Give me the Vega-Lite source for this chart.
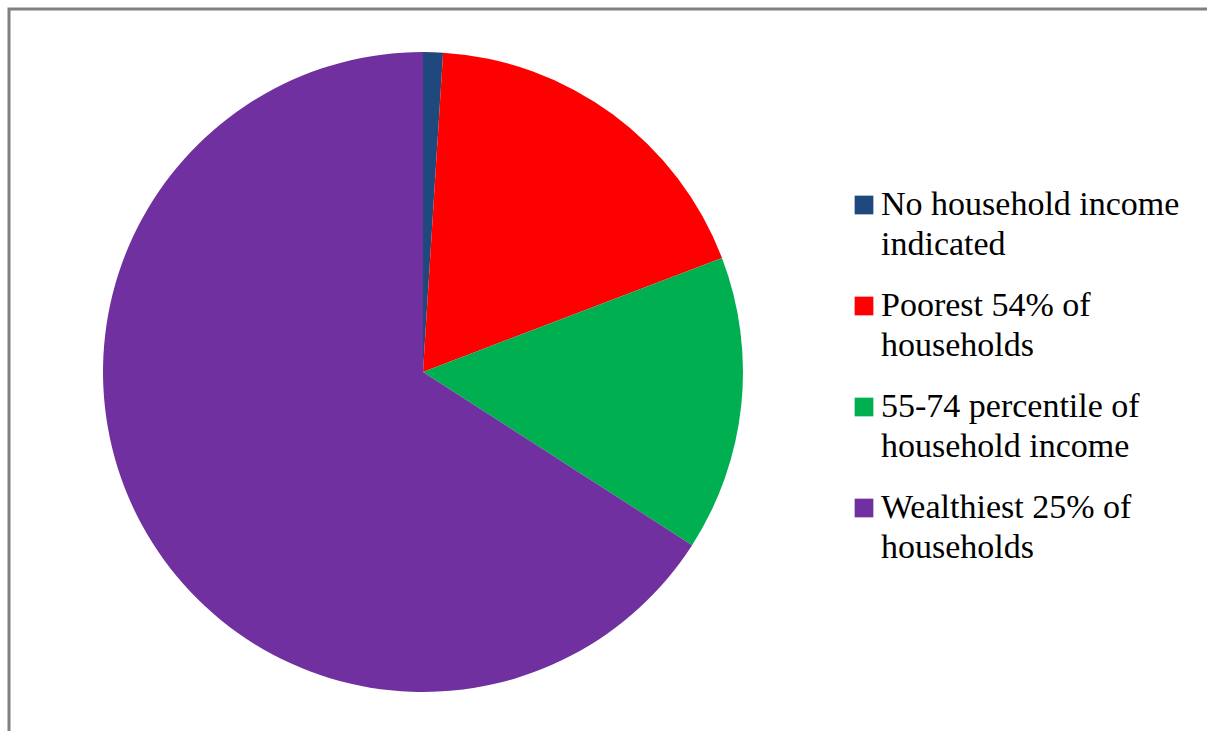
{
  "$schema": "https://vega.github.io/schema/vega-lite/v6.json",
  "width": 1201,
  "height": 725,
  "autosize": "none",
  "padding": {"left": 9, "top": 9, "right": -3, "bottom": -3},
  "background": "white",
  "view": {"stroke": "#808080", "strokeWidth": 3, "fill": null},
  "config": {
    "view": {"stroke": "#808080", "strokeWidth": 3},
    "style": {"guide-label": {"lineHeight": 40}}
  },
  "data": {
    "values": [
      {"group": "No household income indicated", "share": 1.0, "rank": 1},
      {"group": "Poorest 54% of households", "share": 18.2, "rank": 2},
      {"group": "55-74 percentile of household income", "share": 14.9, "rank": 3},
      {"group": "Wealthiest 25% of households", "share": 65.9, "rank": 4}
    ]
  },
  "mark": {"type": "arc", "outerRadius": 320, "x": 414, "y": 363},
  "encoding": {
    "theta": {"field": "share", "type": "quantitative", "stack": true},
    "order": {"field": "rank", "type": "quantitative"},
    "color": {
      "field": "group",
      "type": "nominal",
      "scale": {
        "domain": ["No household income indicated", "Poorest 54% of households", "55-74 percentile of household income", "Wealthiest 25% of households"],
        "range": ["#1f497d", "#ff0000", "#00b050", "#7030a0"]
      },
      "legend": {
        "orient": "none",
        "legendX": 838,
        "legendY": 179,
        "title": null,
        "padding": 0,
        "symbolType": "square",
        "symbolSize": 350,
        "symbolStrokeWidth": 0,
        "symbolOpacity": 1,
        "labelFont": "Liberation Serif, Times New Roman, serif",
        "labelFontSize": 34,
        "labelColor": "black",
        "labelLimit": 500,
        "labelOffset": 0,
        "rowPadding": 27,
        "labelExpr": "datum.label == 'No household income indicated' ? ['No household income', 'indicated'] : datum.label == 'Poorest 54% of households' ? ['Poorest 54% of', 'households'] : datum.label == '55-74 percentile of household income' ? ['55-74 percentile of', 'household income'] : ['Wealthiest 25% of', 'households']"
      }
    }
  }
}
